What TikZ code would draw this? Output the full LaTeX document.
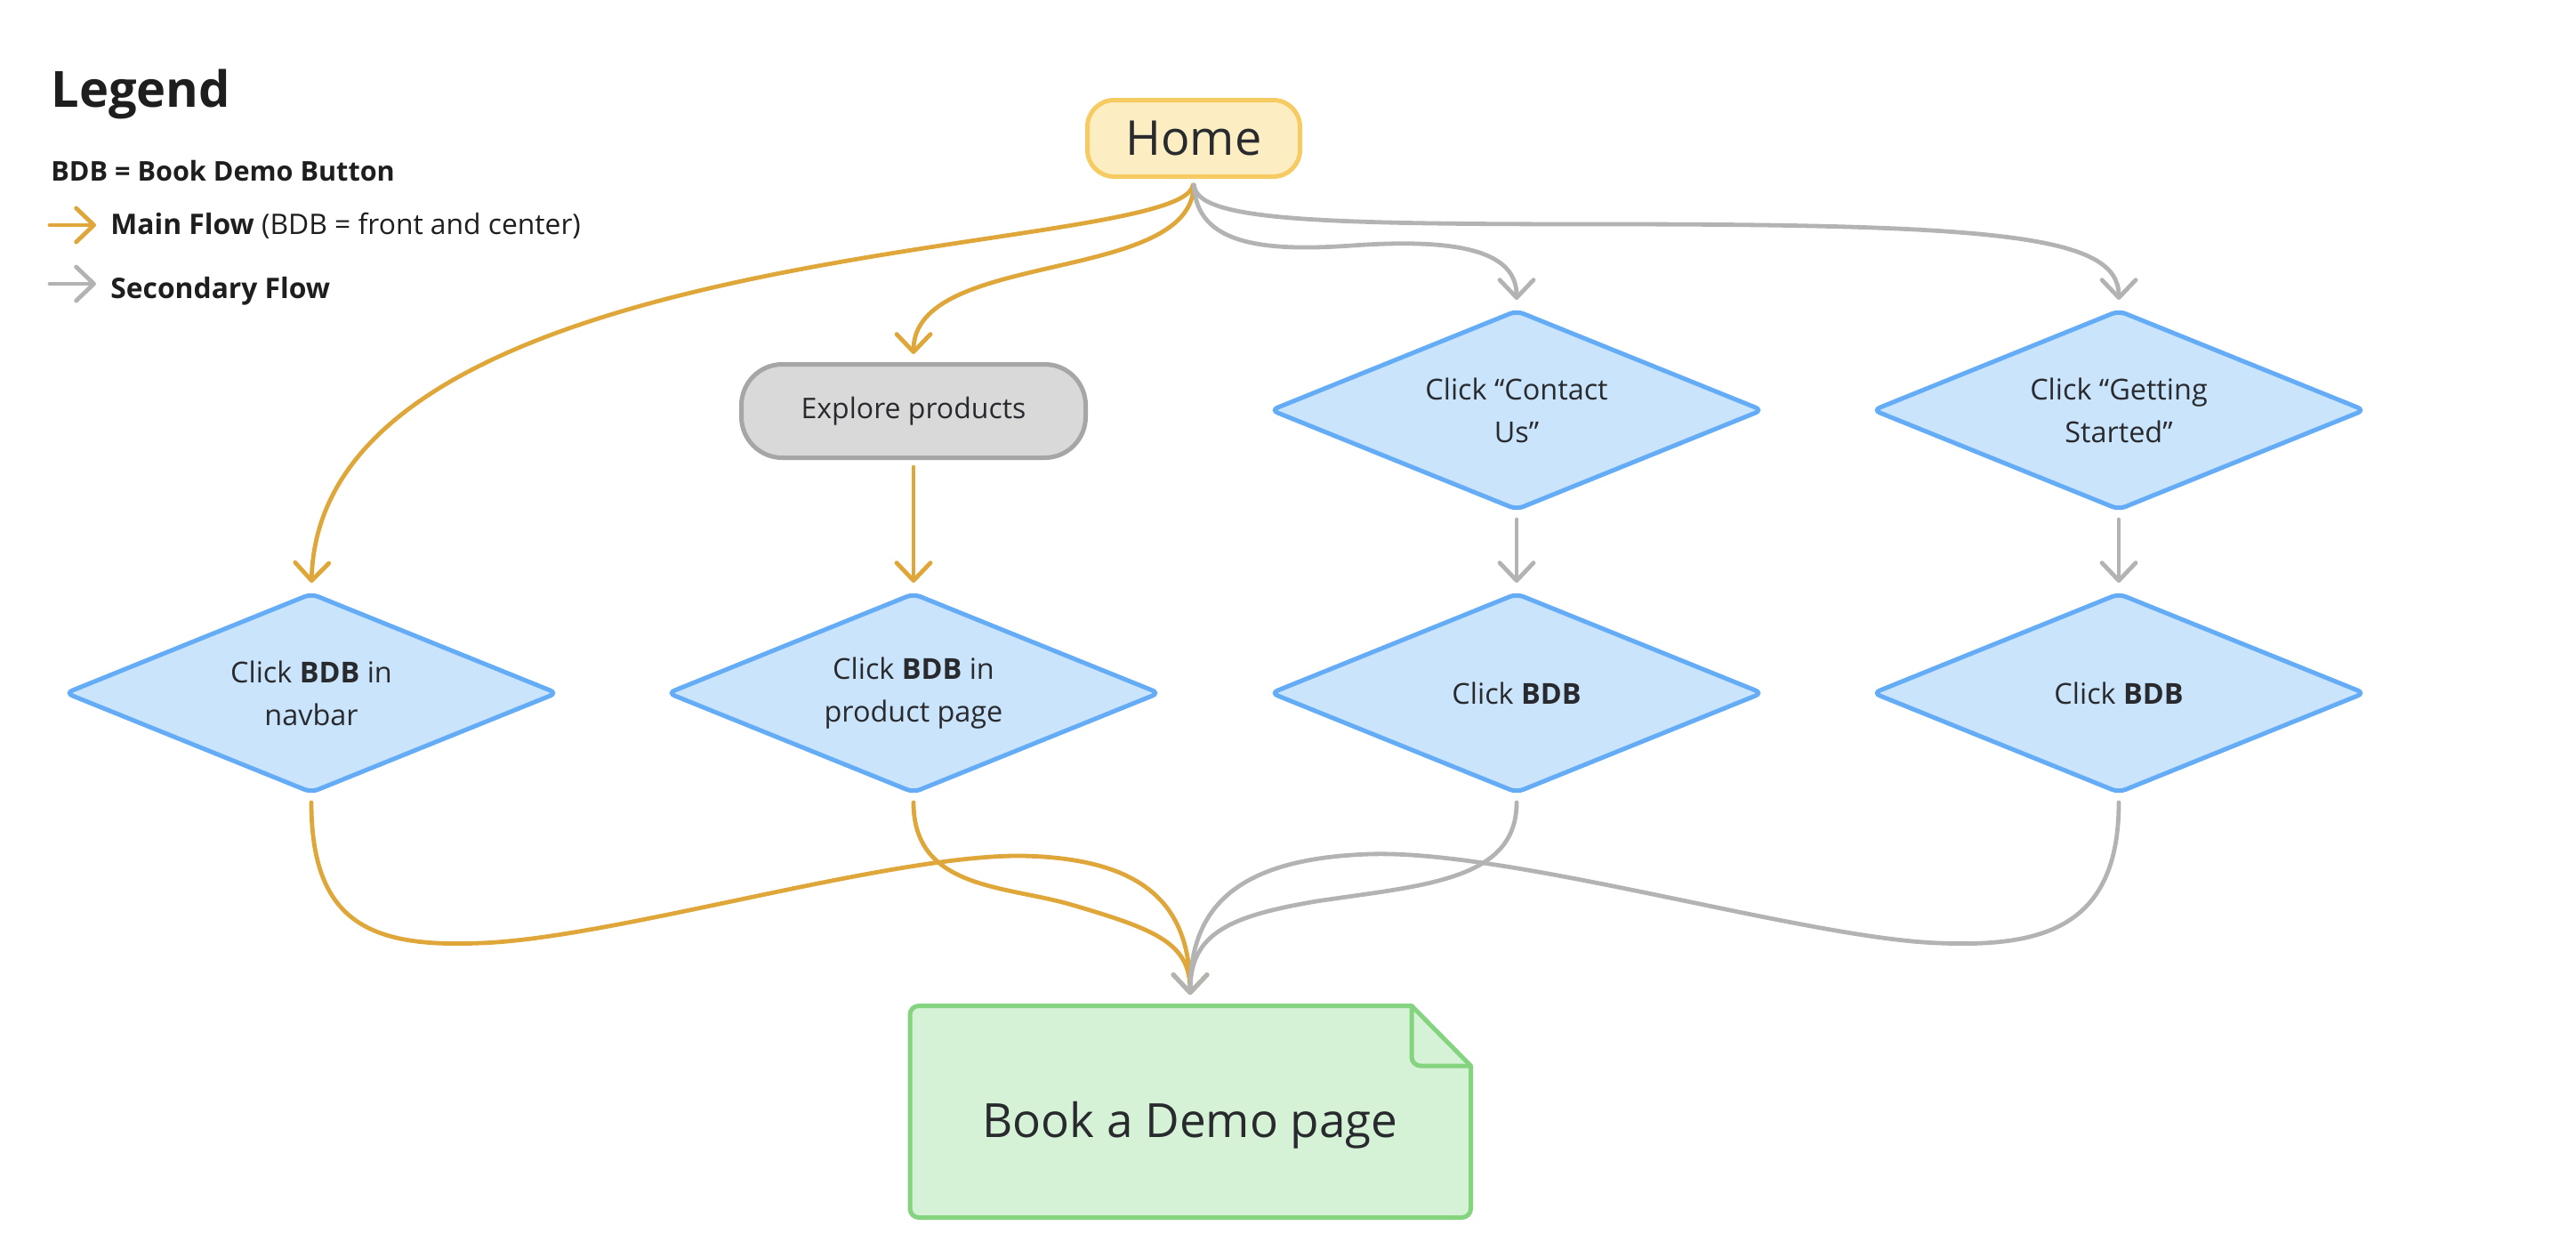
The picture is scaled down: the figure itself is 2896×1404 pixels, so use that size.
\documentclass[tikz,border=0pt]{standalone}
\usepackage{fontspec}
\setmainfont{Open Sans}
\usetikzlibrary{arrows.meta,shapes.geometric}
\definecolor{orangeflow}{HTML}{DFA63A}
\definecolor{grayflow}{HTML}{B3B3B3}
\definecolor{dfill}{HTML}{CAE4FC}
\definecolor{dstroke}{HTML}{64ACF6}
\definecolor{homefill}{HTML}{FCEDC2}
\definecolor{homestroke}{HTML}{F6CC62}
\definecolor{expfill}{HTML}{D9D9D9}
\definecolor{expstroke}{HTML}{A6A6A6}
\definecolor{bookfill}{HTML}{D5F2D6}
\definecolor{bookstroke}{HTML}{84D37F}
\definecolor{txt}{HTML}{282A2E}
\definecolor{legtxt}{HTML}{1E1E1E}
\tikzset{
  flowbase/.style={line width=2.4pt, line cap=round, line join=round,
    -{Straight Barb[length=10pt,width=19pt,line cap=round,line join=round]}},
  mainflow/.style={flowbase, draw=orangeflow},
  secflow/.style={flowbase, draw=grayflow},
  decision/.style={shape=diamond, aspect=2.5, draw=dstroke, fill=dfill, line width=2.5pt,
    minimum width=277pt, minimum height=112.5pt, inner sep=0pt, rounded corners=4pt,
    align=center, text=txt, font=\fontsize{16.2}{24}\selectfont},
  homebox/.style={rectangle, draw=homestroke, fill=homefill, line width=2.5pt,
    rounded corners=15pt, minimum width=119.5pt, minimum height=43pt, inner sep=0pt,
    text=txt, font=\fontsize{27}{32}\selectfont},
  explorebox/.style={rectangle, draw=expstroke, fill=expfill, line width=2.5pt,
    rounded corners=23pt, minimum width=193.5pt, minimum height=52.5pt, inner sep=0pt,
    text=txt, font=\fontsize{16}{20}\selectfont},
  booktext/.style={anchor=base, inner sep=0pt,
    text=txt, font=\fontsize{26.5}{32}\selectfont},
  legendtext/.style={anchor=base west, inner sep=0pt, text=legtxt}
}
\begin{document}
\begin{tikzpicture}[x=0.5pt,y=-0.5pt]
\useasboundingbox (0,0) rectangle (2896,1404);

% Legend
\node[legendtext, font=\fontsize{28}{34}\selectfont\bfseries] (legtitle) at (57,120) {Legend};
\node[legendtext, font=\fontsize{15.3}{18}\selectfont\bfseries] (legbdb) at (57,203) {BDB = Book Demo Button};
\node[legendtext, font=\fontsize{15.9}{18}\selectfont] (legmain) at (124,263) {\textbf{Main Flow} (BDB = front and center)};
\node[legendtext, font=\fontsize{15.9}{18}\selectfont\bfseries] (legsec) at (124,335) {Secondary Flow};
\coordinate (lm1) at (56,253);
\coordinate (lm2) at (108,253);
\coordinate (ls1) at (56,319);
\coordinate (ls2) at (108,319);
\draw[mainflow] (lm1) -- (lm2);
\draw[secflow] (ls1) -- (ls2);

% Nodes
\node[homebox] (home) at (1342,155.5) {Home};
\node[explorebox] (explore) at (1027,462) {Explore products};
\node[decision] (d1) at (350,779) {Click \textbf{BDB} in\\navbar};
\node[decision] (d2) at (1027,779) {Click \textbf{BDB} in\\product page};
\node[decision] (d3) at (1705,461) {Click “Contact\\Us”};
\node[decision] (d4) at (1705,779) {Click \textbf{BDB}};
\node[decision] (d5) at (2382,461) {Click “Getting\\Started”};
\node[decision] (d6) at (2382,779) {Click \textbf{BDB}};

% Book a demo page (folded document)
\filldraw[fill=bookfill, draw=bookstroke, line width=2.5pt, line join=round]
  (1023,1140) [rounded corners=5pt] -- (1023,1368.5) -- (1653.5,1368.5) [sharp corners] -- (1653.5,1198)
  -- (1587,1130.5) [rounded corners=5pt] -- (1023,1130.5) [sharp corners] -- (1023,1140);
\draw[draw=bookstroke, line width=2.5pt, line join=round, rounded corners=5pt]
  (1587,1130.5) -- (1587,1198) -- (1653.5,1198);
\node[booktext] (book) at (1338,1278) {Book a Demo page};
\coordinate (booktop) at (1338,1128);

% Main flow connectors
\draw[mainflow, shorten <=3.5pt, shorten >=4.5pt] (home.south)
  .. controls (1330,290) and (360,260) .. (d1.north);
\draw[mainflow, shorten <=3.5pt, shorten >=4.5pt] (home.south)
  .. controls (1341,320) and (1027,280) .. (explore.north);
\draw[mainflow, shorten <=4pt, shorten >=4.5pt] (explore.south) -- (d2.north);
\draw[mainflow, shorten <=4pt, shorten >=5pt] (d1.south)
  .. controls (350,1040) and (420,1065) .. (540,1060)
  .. controls (690,1055) and (1000,960) .. (1150,962)
  .. controls (1290,965) and (1338,1020) .. (booktop);
\draw[mainflow, shorten <=4pt, shorten >=5pt] (d2.south)
  .. controls (1027,1000) and (1130,995) .. (1205,1017)
  .. controls (1300,1045) and (1338,1060) .. (booktop);

% Secondary flow connectors
\draw[secflow, shorten <=3.5pt, shorten >=4.5pt] (home.south)
  .. controls (1345,275) and (1420,283) .. (1520,276)
  .. controls (1660,266) and (1705,290) .. (d3.north);
\draw[secflow, shorten <=3.5pt, shorten >=4.5pt] (home.south)
  .. controls (1345,248) and (1480,252) .. (1800,252)
  .. controls (2250,252) and (2382,265) .. (d5.north);
\draw[secflow, shorten <=4pt, shorten >=4.5pt] (d3.south) -- (d4.north);
\draw[secflow, shorten <=4pt, shorten >=4.5pt] (d5.south) -- (d6.north);
\draw[secflow, shorten <=4pt, shorten >=5pt] (d4.south)
  .. controls (1705,990) and (1600,995) .. (1480,1013)
  .. controls (1380,1030) and (1338,1050) .. (booktop);
\draw[secflow, shorten <=4pt, shorten >=5pt] (d6.south)
  .. controls (2382,1040) and (2300,1065) .. (2180,1060)
  .. controls (2030,1055) and (1700,955) .. (1540,960)
  .. controls (1390,965) and (1338,1020) .. (booktop);
\end{tikzpicture}
\end{document}
